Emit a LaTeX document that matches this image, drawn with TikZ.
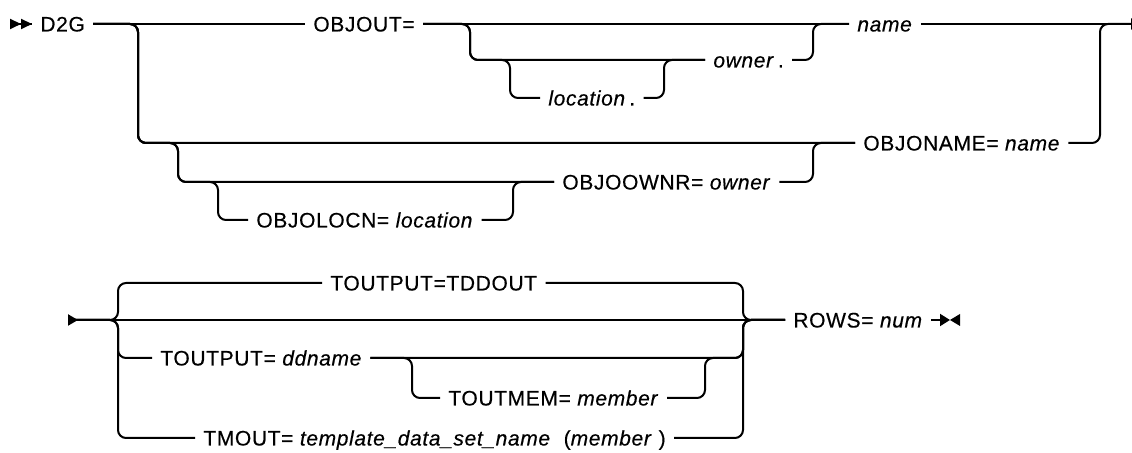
\documentclass[tikz,border=0pt]{standalone}
\usepackage{fontspec}
\setmainfont[LetterSpace=3, FakeBold=0.4]{Liberation Sans}
\usetikzlibrary{arrows.meta}

\begin{document}
\begin{tikzpicture}[
    x=0.5pt, y=-0.5pt,
    font=\fontsize{10.5}{12}\selectfont,
    kw/.style={anchor=west, inner xsep=4pt, inner ysep=0pt,
            text height=7.5pt, text depth=0pt},
    rail/.style={line width=1pt},
    turn/.style={rail, rounded corners=4pt},
    ]
    \useasboundingbox (0,0) rectangle (1132,453);

    % first line
    \node[kw] (d2g) at (32,24) {D2G};
    \node[kw] (objout) at (305,24) {OBJOUT=};
    \node[kw] (owner) at (705,60) {\textit{owner}\,.};
    \node[kw] (loc) at (540,98) {\textit{location}\,.};
    \node[kw] (name) at (849,24) {\textit{name}};
    \node[kw] (objoname) at (855,143) {OBJONAME= \textit{name}};
    \node[kw] (objoownr) at (554,182) {OBJOOWNR= \textit{owner}};
    \node[kw] (objolocn) at (248,220) {OBJOLOCN= \textit{location}};

    \coordinate (st1) at (10,24);
    \coordinate (end1) at (1141,24);
    \coordinate (b1) at (138,143);
    \coordinate (b2) at (178,182);
    \coordinate (b3) at (218,220);
    \coordinate (u3) at (513,182);
    \coordinate (u2) at (813,143);
    \coordinate (u1) at (1100,24);
    \coordinate (b4) at (470,60);
    \coordinate (b5) at (510,98);
    \coordinate (u5) at (664,60);
    \coordinate (u4) at (813,24);

    \draw[rail, {Triangle[reversed, length=5.5pt, width=5pt]Triangle[reversed, length=5.5pt, width=5pt]}-] (st1) -- (d2g.west);
    \draw[rail] (d2g.east) -- (objout.west);
    \draw[rail] (objout.east) -- (name.west);
    \draw[rail, -{Triangle[length=5pt, width=5.5pt]}] (name.east) -- (end1);

    \draw[turn] (d2g.east) -| (b1) -- (objoname.west);
    \draw[turn] (d2g.east) -| (b1) -| (b2) -- (objoownr.west);
    \draw[turn] (d2g.east) -| (b1) -| (b2) -| (b3) -- (objolocn.west);
    \draw[turn] (objolocn.east) -| (u3) -- (objoownr.west);
    \draw[turn] (objoownr.east) -| (u2) -- (objoname.west);
    \draw[turn] (objoname.east) -| (u1) -- (end1);

    \draw[turn] (objout.east) -| (b4) -- (owner.west);
    \draw[turn] (objout.east) -| (b4) -| (b5) -- (loc.west);
    \draw[turn] (loc.east) -| (u5) -- (owner.west);
    \draw[turn] (owner.east) -| (u4) -- (name.west);

    % second line
    \node[kw] (tddout) at (322,283) {TOUTPUT=TDDOUT};
    \node[kw] (ddname) at (152,358) {TOUTPUT= \textit{ddname}};
    \node[kw] (toutmem) at (440,398) {TOUTMEM= \textit{member}};
    \node[kw] (tmout) at (195,438) {TMOUT= \textit{template\_data\_set\_name}\ \ (\textit{member}\ )};
    \node[kw] (rows) at (785,320) {ROWS= \textit{num}};

    \coordinate (st4) at (68,320);
    \coordinate (l1) at (118,283);
    \coordinate (l2) at (118,358);
    \coordinate (l3) at (118,438);
    \coordinate (r0) at (743,320);
    \coordinate (m1) at (412,398);
    \coordinate (m2) at (705,358);
    \coordinate (end4) at (950,320);

    \draw[rail, {Triangle[reversed, length=5pt, width=5.5pt]}-] (st4) -- (rows.west);
    \draw[turn] (st4) -| (l1) -- (tddout.west);
    \draw[turn] (tddout.east) -| (r0) -- (rows.west);
    \draw[turn] (st4) -| (l2) -- (ddname.west);
    \draw[turn] (ddname.east) -| (r0) -- (rows.west);
    \draw[turn] (ddname.east) -| (m1) -- (toutmem.west);
    \draw[turn] (toutmem.east) -| (m2) -| (r0) -- (rows.west);
    \draw[turn] (st4) -| (l3) -- (tmout.west);
    \draw[turn] (tmout.east) -| (r0) -- (rows.west);

    \draw[rail, -{Triangle[length=5pt, width=6pt]}] (rows.east) -- (end4);
    \fill (end4) -- ++(10,-6) -- ++(0,12) -- cycle;
\end{tikzpicture}
\end{document}
